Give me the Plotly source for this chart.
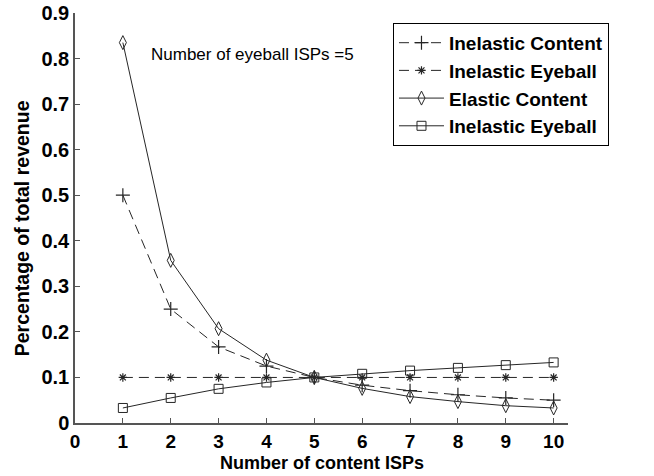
import plotly.graph_objects as go

x_vals = [1, 2, 3, 4, 5, 6, 7, 8, 9, 10]
inelastic_content = [0.5, 0.25, 0.167, 0.125, 0.1, 0.083, 0.071, 0.062, 0.055, 0.05]
inelastic_eyeball = [0.1, 0.1, 0.1, 0.1, 0.1, 0.1, 0.1, 0.1, 0.1, 0.1]
elastic_content = [0.835, 0.357, 0.207, 0.138, 0.1, 0.076, 0.058, 0.047, 0.038, 0.033]
elastic_eyeball = [0.033, 0.055, 0.075, 0.089, 0.1, 0.108, 0.115, 0.121, 0.127, 0.133]
x_ticks = [0, 1, 2, 3, 4, 5, 6, 7, 8, 9, 10]
y_ticks = [0, 0.1, 0.2, 0.3, 0.4, 0.5, 0.6, 0.7, 0.8, 0.9]
y_tick_text = ["0", "0.1", "0.2", "0.3", "0.4", "0.5", "0.6", "0.7", "0.8", "0.9"]

FONT = "Liberation Sans, Arial, sans-serif"
LC = "#262626"
DASH = "10px,6px"

fig = go.Figure()
fig.add_trace(go.Scatter(x=x_vals, y=inelastic_content, mode="lines+markers",
                         name="<b>Inelastic Content</b>",
                         line=dict(color=LC, width=1, dash=DASH),
                         marker=dict(symbol="cross-thin-open", size=10, line=dict(color=LC, width=1.2))))
fig.add_trace(go.Scatter(x=x_vals, y=inelastic_eyeball, mode="lines+markers",
                         name="<b>Inelastic Eyeball</b>",
                         line=dict(color=LC, width=1, dash=DASH),
                         marker=dict(symbol="asterisk-open", size=7, line=dict(color=LC, width=1.2))))
fig.add_trace(go.Scatter(x=x_vals, y=elastic_content, mode="lines+markers",
                         name="<b>Elastic Content</b>",
                         line=dict(color=LC, width=1),
                         marker=dict(symbol="diamond-tall-open", size=10, line=dict(color=LC, width=1))))
fig.add_trace(go.Scatter(x=x_vals, y=elastic_eyeball, mode="lines+markers",
                         name="<b>Inelastic Eyeball</b>",
                         line=dict(color=LC, width=1),
                         marker=dict(symbol="square-open", size=9, line=dict(color=LC, width=1))))

fig.add_annotation(x=1.55, y=0.81, xref="x", yref="y", xanchor="left", yanchor="middle",
                   text="Number of eyeball ISPs =5", showarrow=False,
                   font=dict(family=FONT, size=17, color="black"))
fig.add_annotation(x=0.5, y=-0.098, xref="paper", yref="paper", xanchor="center", yanchor="middle",
                   text="<b>Number of content ISPs</b>", showarrow=False,
                   font=dict(family=FONT, size=18, color="black"))
fig.add_annotation(x=-0.1075, y=0.475, xref="paper", yref="paper", xanchor="center", yanchor="middle",
                   text="<b>Percentage of total revenue</b>", showarrow=False, textangle=-90,
                   font=dict(family=FONT, size=19.5, color="black"))

fig.update_layout(
    width=654, height=476,
    margin=dict(l=75, r=86, t=13, b=53),
    paper_bgcolor="white", plot_bgcolor="white",
    font=dict(family=FONT, color="black"),
    showlegend=True,
    legend=dict(x=0.645, y=0.976, xanchor="left", yanchor="top",
                bordercolor="black", borderwidth=1, bgcolor="white",
                font=dict(family=FONT, size=19, color="black"),
                itemwidth=45, tracegroupgap=0, itemsizing="trace"),
    xaxis=dict(range=[0, 10.3], tickvals=x_ticks, ticktext=[f"<b>{t}</b>" for t in x_ticks],
               showgrid=False, zeroline=False, showline=True, linecolor="#555555", linewidth=1.5,
               ticks="inside", ticklen=5, tickcolor="#555555", automargin=False,
               tickfont=dict(family=FONT, size=19, color="black")),
    yaxis=dict(range=[0, 0.9], tickvals=y_ticks, ticktext=[f"<b>{t}</b>" for t in y_tick_text],
               showgrid=False, zeroline=False, showline=True, linecolor="#555555", linewidth=1.5,
               ticks="inside", ticklen=5, tickcolor="#555555", automargin=False,
               ticklabeloverflow="allow",
               tickfont=dict(family=FONT, size=20, color="black")),
)

fig.write_html("out.html", config={"displayModeBar": False},
               post_script="document.body.style.margin='0';")
